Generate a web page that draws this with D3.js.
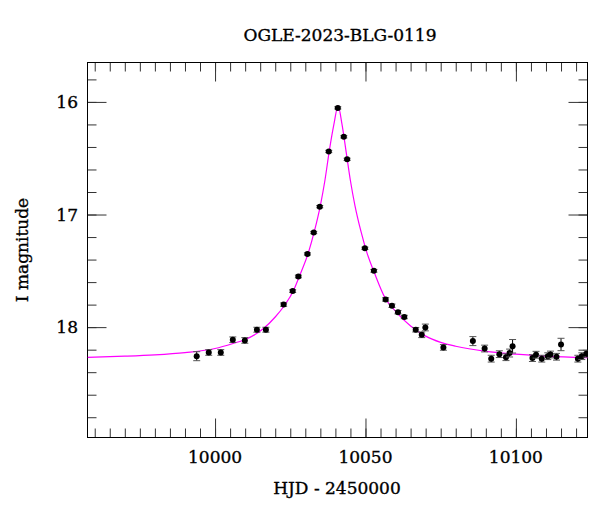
<!DOCTYPE html>
<html>
<head>
<meta charset="utf-8">
<script src="https://cdn.jsdelivr.net/npm/d3@7"></script>
<style>
  body { margin: 0; background: #fff; }
  text { font-family: "DejaVu Serif", serif; fill: #000; stroke: #000; stroke-width: 0.35px; }
</style>
</head>
<body>
<div id="chart"></div>
<script>
var hjd = [9993.9, 9997.9, 10001.9, 10005.9, 10009.9, 10013.9, 10016.9, 10022.8, 10025.8,
           10027.7, 10030.7, 10032.8, 10034.8, 10037.8, 10040.8, 10042.8, 10043.9,
           10049.8, 10052.8, 10056.7, 10058.8, 10060.8, 10062.9, 10066.7, 10068.7, 10069.9,
           10075.9, 10085.7, 10089.6, 10091.8, 10094.5, 10096.7, 10097.9, 10098.9,
           10105.5, 10106.7, 10108.6, 10110.6, 10111.5, 10113.5, 10115.0,
           10120.6, 10121.9, 10123.4];
var mag = [18.258, 18.225, 18.225, 18.112, 18.118, 18.023, 18.023, 17.80, 17.68,
           17.55, 17.35, 17.16, 16.93, 16.44, 16.053, 16.31, 16.51,
           17.30, 17.50, 17.754, 17.81, 17.867, 17.91, 18.023, 18.068, 18.003,
           18.18, 18.124, 18.19, 18.28, 18.24, 18.267, 18.23, 18.17,
           18.275, 18.245, 18.28, 18.258, 18.243, 18.263, 18.154,
           18.28, 18.258, 18.236];
var magErr = [0.04, 0.025, 0.025, 0.025, 0.025, 0.022, 0.022, 0.015, 0.012,
              0.012, 0.01, 0.01, 0.01, 0.01, 0.01, 0.01, 0.01,
              0.01, 0.012, 0.015, 0.015, 0.015, 0.015, 0.02, 0.025, 0.03,
              0.025, 0.04, 0.03, 0.03, 0.03, 0.03, 0.035, 0.06,
              0.03, 0.03, 0.03, 0.03, 0.03, 0.03, 0.055,
              0.03, 0.03, 0.03];

// model curve, sampled off the plot
var modelT = [9957.6, 9970, 9980, 9990, 10000, 10006, 10010, 10016, 10020, 10023, 10026,
              10028, 10031, 10033, 10035, 10036.5, 10038, 10039.5, 10040.9, 10042.2,
              10043.5, 10045, 10046.5, 10048.5, 10050.5, 10053, 10056.5, 10060, 10065,
              10070, 10075, 10080, 10090, 10100, 10110, 10124];
var modelM = [18.268, 18.258, 18.246, 18.226, 18.19, 18.145, 18.11, 18.015, 17.91, 17.81, 17.68,
              17.55, 17.34, 17.15, 16.92, 16.7, 16.43, 16.2, 16.035, 16.2,
              16.43, 16.7, 16.92, 17.15, 17.34, 17.52, 17.74, 17.86, 17.99,
              18.08, 18.135, 18.17, 18.215, 18.24, 18.258, 18.272];

var xTicks = [10000, 10050, 10100];
var yTicks = [16, 17, 18];
var title = "OGLE-2023-BLG-0119";

var width = 600, height = 512;
var pLeft = 87.5, pRight = 587.5, pTop = 62.5, pBottom = 437.5;

var svg = d3.select("#chart").append("svg")
    .attr("width", width)
    .attr("height", height);

var x = d3.scaleLinear().domain([9957.6, 10123.8]).range([pLeft, pRight]);
var y = d3.scaleLinear().domain([15.65, 18.98]).range([pTop, pBottom]);

svg.append("clipPath").attr("id", "plotclip")
  .append("rect")
    .attr("x", pLeft).attr("y", pTop)
    .attr("width", pRight - pLeft).attr("height", pBottom - pTop);

// ticks on all four sides, pointing inward
var minorX = d3.range(9960, 10125, 5);
var minorY = d3.range(15.8, 18.95, 0.2);

function tickAxis(axisFn, scale, vals, size) {
    return axisFn(scale).tickValues(vals).tickSize(-size).tickFormat("");
}
var axes = [
    [d3.axisBottom, x, minorX, 9, "translate(0," + pBottom + ")"],
    [d3.axisBottom, x, xTicks, 19, "translate(0," + pBottom + ")"],
    [d3.axisTop, x, minorX, 9, "translate(0," + pTop + ")"],
    [d3.axisTop, x, xTicks, 19, "translate(0," + pTop + ")"],
    [d3.axisLeft, y, minorY, 9, "translate(" + pLeft + ",0)"],
    [d3.axisLeft, y, yTicks, 19, "translate(" + pLeft + ",0)"],
    [d3.axisRight, y, minorY, 9, "translate(" + pRight + ",0)"],
    [d3.axisRight, y, yTicks, 19, "translate(" + pRight + ",0)"]
];
axes.forEach(function(a) {
    var g = svg.append("g")
        .attr("transform", a[4])
        .call(tickAxis(a[0], a[1], a[2], a[3]));
    g.select(".domain").remove();
    g.selectAll("line").attr("stroke", "#333").attr("stroke-width", 1);
});

// tick labels
svg.selectAll(".xlab").data(xTicks).enter().append("text")
    .attr("x", function(d) { return x(d); })
    .attr("y", 463)
    .attr("text-anchor", "middle")
    .style("font-size", "17px")
    .text(function(d) { return d; });

svg.selectAll(".ylab").data(yTicks).enter().append("text")
    .attr("x", 78)
    .attr("y", function(d) { return y(d) + 6; })
    .attr("text-anchor", "end")
    .style("font-size", "17px")
    .text(function(d) { return d; });

// frame
svg.append("rect")
    .attr("x", pLeft).attr("y", pTop)
    .attr("width", pRight - pLeft).attr("height", pBottom - pTop)
    .attr("fill", "none").attr("stroke", "#000").attr("stroke-width", 1);

var plot = svg.append("g").attr("clip-path", "url(#plotclip)");

// model
var line = d3.line()
    .x(function(d, i) { return x(modelT[i]); })
    .y(function(d) { return y(d); })
    .curve(d3.curveMonotoneX);
plot.append("path")
    .datum(modelM)
    .attr("d", line)
    .attr("fill", "none")
    .attr("stroke", "#ff00ff")
    .attr("stroke-width", 1.2);

// points with error bars
var pts = plot.selectAll(".pt").data(hjd).enter().append("g");
pts.append("line")
    .attr("x1", function(d) { return x(d); })
    .attr("x2", function(d) { return x(d); })
    .attr("y1", function(d, i) { return y(mag[i] - magErr[i]); })
    .attr("y2", function(d, i) { return y(mag[i] + magErr[i]); })
    .attr("stroke", "#000");
[-1, 1].forEach(function(s) {
    pts.append("line")
        .attr("x1", function(d) { return x(d) - 3.5; })
        .attr("x2", function(d) { return x(d) + 3.5; })
        .attr("y1", function(d, i) { return y(mag[i] + s * magErr[i]); })
        .attr("y2", function(d, i) { return y(mag[i] + s * magErr[i]); })
        .attr("stroke", "#555");
});
pts.append("circle")
    .attr("cx", function(d) { return x(d); })
    .attr("cy", function(d, i) { return y(mag[i]); })
    .attr("r", 3)
    .attr("fill", "#000");

// titles
svg.append("text")
    .attr("x", 340).attr("y", 41)
    .attr("text-anchor", "middle")
    .style("font-size", "17px")
    .text(title);

svg.append("text")
    .attr("x", 337).attr("y", 494)
    .attr("text-anchor", "middle")
    .style("font-size", "17px")
    .text("HJD - 2450000");

svg.append("text")
    .attr("transform", "translate(28,250) rotate(-90)")
    .attr("text-anchor", "middle")
    .style("font-size", "17px")
    .text("I magnitude");
</script>
</body>
</html>
